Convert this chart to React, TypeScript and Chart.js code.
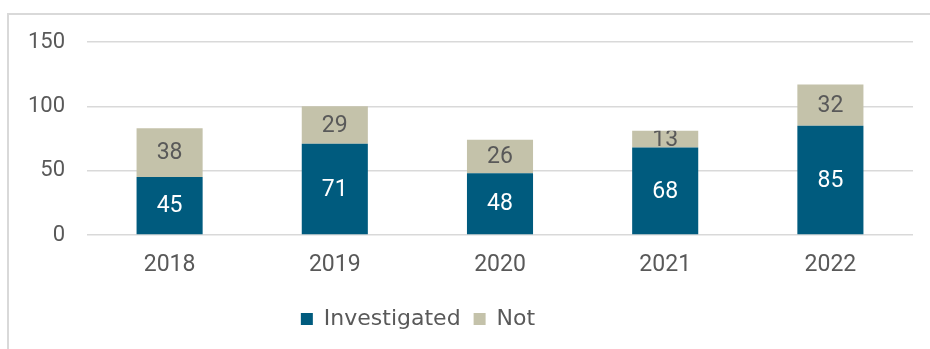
import React, { useEffect, useRef } from "react";
import { Chart, registerables } from "chart.js";

Chart.register(...registerables);

const categories = ["2018", "2019", "2020", "2021", "2022"];
const investigated = [45, 71, 48, 68, 85];
const notInvestigated = [38, 29, 26, 13, 32];
const seriesNames = ["Investigated", "Not"];
const yMin = 0;
const yMax = 150;
const yStep = 50;

const BLUE = "#005B7E";
const TAN = "#C4C2AA";
const GREY_TEXT = "#595959";

const barLabels = {
  id: "barLabels",
  afterDatasetsDraw(chart: any) {
    const ctx = chart.ctx;
    chart.data.datasets.forEach((ds: any, di: number) => {
      const meta = chart.getDatasetMeta(di);
      meta.data.forEach((bar: any, i: number) => {
        const { x, y, base, width } = bar.getProps(["x", "y", "base", "width"], true);
        const top = Math.min(y, base);
        const h = Math.abs(base - y);
        ctx.save();
        ctx.beginPath();
        ctx.rect(x - width / 2, top, width, h);
        ctx.clip();
        ctx.fillStyle = di === 0 ? "#FFFFFF" : GREY_TEXT;
        ctx.font = "23px Roboto";
        ctx.textAlign = "center";
        ctx.textBaseline = "middle";
        ctx.fillText(String(ds.data[i]), x, top + h / 2 + 1);
        ctx.restore();
      });
    });
  },
};

const legendShift = {
  id: "legendShift",
  afterLayout(chart: any) {
    const l = chart.legend;
    if (!l) return;
    const target = 418;
    const shift = target - (l.left + l.right) / 2;
    l.left += shift;
    l.right += shift;
  },
};

export default function App() {
  const ref = useRef<HTMLCanvasElement | null>(null);

  useEffect(() => {
    if (!ref.current) return;
    const chart = new Chart(ref.current, {
      type: "bar",
      data: {
        labels: categories,
        datasets: [
          {
            label: seriesNames[0],
            data: investigated,
            backgroundColor: BLUE,
            borderWidth: 0,
            barPercentage: 0.5,
            categoryPercentage: 0.8,
          },
          {
            label: seriesNames[1],
            data: notInvestigated,
            backgroundColor: TAN,
            borderWidth: 0,
            barPercentage: 0.5,
            categoryPercentage: 0.8,
          },
        ],
      },
      options: {
        responsive: false,
        animation: false,
        devicePixelRatio: 1,
        layout: { padding: { top: 42, left: 0, right: 17, bottom: 9 } },
        plugins: {
          tooltip: { enabled: false },
          legend: {
            position: "bottom",
            labels: {
              boxWidth: 12,
              boxHeight: 12,
              padding: 13,
              color: GREY_TEXT,
              font: { family: "'DejaVu Sans'", size: 22 },
            },
          },
        },
        scales: {
          x: {
            stacked: true,
            grid: { display: false, drawTicks: false },
            border: { display: false },
            ticks: {
              color: GREY_TEXT,
              font: { family: "Roboto", size: 23 },
              padding: 16,
            },
            afterFit(scale: any) {
              scale.height = 60;
            },
          },
          y: {
            stacked: true,
            min: yMin,
            max: yMax,
            grid: { color: "#D9D9D9", lineWidth: 1.5, drawTicks: false },
            border: { display: false },
            ticks: {
              stepSize: yStep,
              color: GREY_TEXT,
              font: { family: "Roboto", size: 22 },
              padding: 22,
            },
            afterFit(scale: any) {
              scale.width = 87;
            },
          },
        },
      },
      plugins: [barLabels, legendShift],
    });
    return () => chart.destroy();
  }, []);

  return (
    <div
      style={{
        position: "fixed",
        left: 0,
        top: 0,
        width: 930,
        height: 349,
        overflow: "hidden",
        background: "#FFFFFF",
      }}
    >
      <div
        style={{
          position: "absolute",
          left: 7,
          top: 13,
          width: 2000,
          height: 2000,
          borderLeft: "2px solid #D9D9D9",
          borderTop: "2px solid #D9D9D9",
        }}
      />
      <canvas
        ref={ref}
        width={930}
        height={349}
        style={{ position: "absolute", left: 0, top: 0, width: 930, height: 349 }}
      />
    </div>
  );
}
